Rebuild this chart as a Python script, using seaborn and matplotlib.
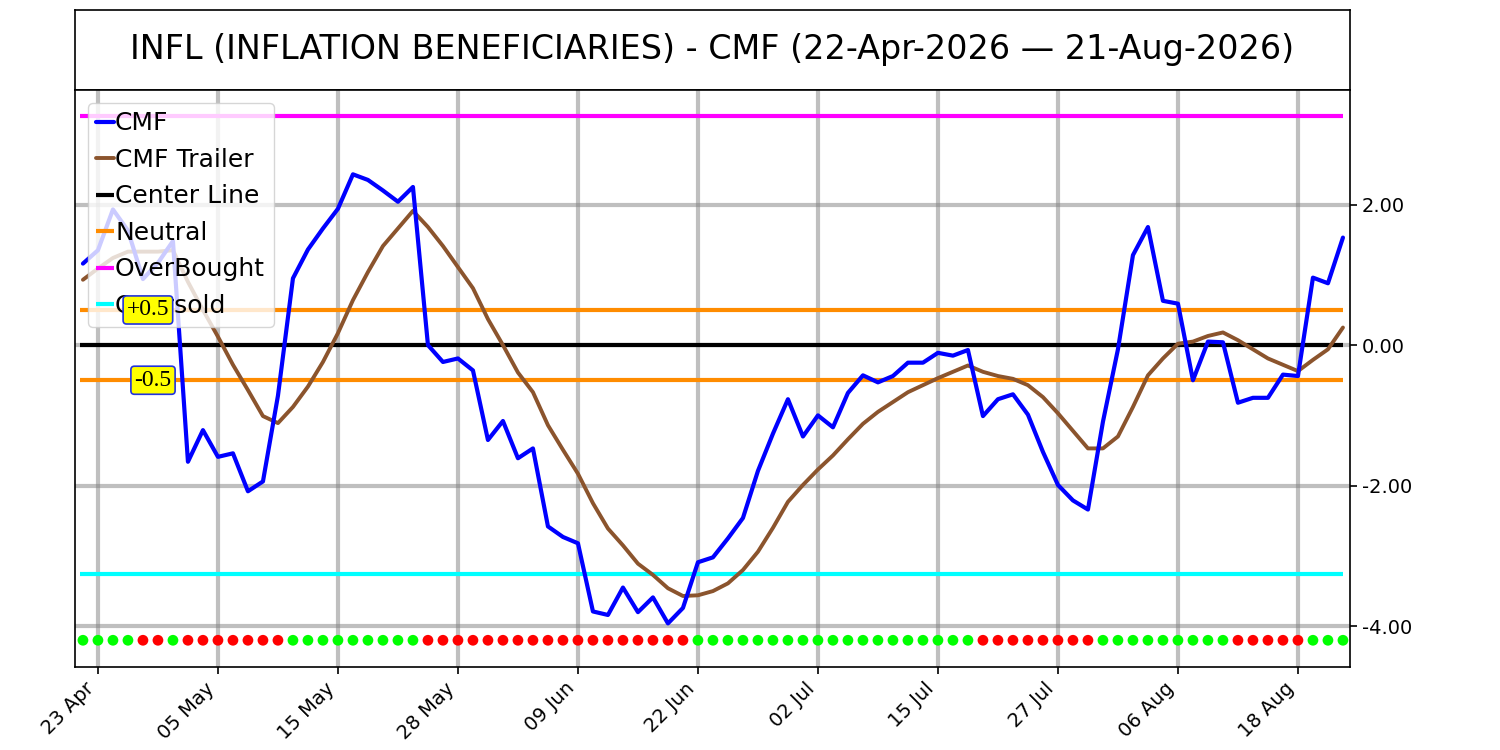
import matplotlib
matplotlib.use("Agg")
import matplotlib.pyplot as plt
import numpy as np
import pandas as pd
import seaborn as sns

sns.set_style("ticks")
plt.rcParams["font.family"] = ["DejaVu Sans"]
plt.rcParams["text.color"] = "black"
plt.rcParams["xtick.color"] = "black"
plt.rcParams["ytick.color"] = "black"

TITLE = "INFL (INFLATION BENEFICIARIES) - CMF (22-Apr-2026 \u2014 21-Aug-2026)"

HOLIDAYS = ["2026-05-25", "2026-06-19", "2026-07-03"]
DATES = pd.bdate_range("2026-04-22", "2026-08-21", freq="C", holidays=HOLIDAYS)

CMF = [
    1.16, 1.35, 1.93, 1.63, 0.94, 1.17, 1.48, -1.66, -1.21, -1.59,
    -1.54, -2.08, -1.94, -0.72, 0.95, 1.36, 1.66, 1.94, 2.43, 2.35,
    2.20, 2.04, 2.25, 0.00, -0.24, -0.19, -0.36, -1.35, -1.08, -1.61,
    -1.47, -2.58, -2.73, -2.82, -3.79, -3.84, -3.45, -3.80, -3.59, -3.96,
    -3.74, -3.09, -3.02, -2.75, -2.46, -1.79, -1.26, -0.77, -1.30, -1.00,
    -1.17, -0.68, -0.43, -0.53, -0.44, -0.25, -0.25, -0.11, -0.15, -0.07,
    -1.01, -0.77, -0.70, -0.99, -1.52, -1.99, -2.21, -2.34, -1.09, -0.06,
    1.28, 1.68, 0.63, 0.59, -0.50, 0.05, 0.04, -0.82, -0.75, -0.75,
    -0.42, -0.44, 0.96, 0.88, 1.53,
]
TRAILER = [
    0.93, 1.09, 1.24, 1.33, 1.33, 1.33, 1.35, 0.90, 0.50, 0.12,
    -0.28, -0.64, -1.01, -1.11, -0.88, -0.59, -0.24, 0.17, 0.64, 1.04,
    1.41, 1.66, 1.91, 1.68, 1.41, 1.11, 0.81, 0.37, 0.00, -0.39,
    -0.67, -1.14, -1.49, -1.83, -2.25, -2.61, -2.85, -3.11, -3.27, -3.46,
    -3.57, -3.56, -3.50, -3.39, -3.20, -2.94, -2.60, -2.23, -1.99, -1.77,
    -1.57, -1.34, -1.12, -0.95, -0.81, -0.67, -0.57, -0.47, -0.38, -0.29,
    -0.38, -0.44, -0.48, -0.57, -0.74, -0.97, -1.22, -1.47, -1.47, -1.30,
    -0.88, -0.43, -0.19, 0.02, 0.05, 0.13, 0.18, 0.07, -0.06, -0.19,
    -0.28, -0.37, -0.21, -0.06, 0.25,
]
# G = bullish dot, R = bearish dot
SIGNAL = "GGGGRRGRRRRRRRGGGGGGGGGRRRRRRRRRRRRRRRRRRGGGGGGGGGGGGGGGGGGGRRRRRRRRGGGGGGGGGRRRRRGGG"

CENTER = 0.0
NEUTRAL = 0.5
OVERBOUGHT = 3.26
OVERSOLD = -3.25
DOT_LEVEL = -4.2

YTICKS = [-4.0, -2.0, 0.0, 2.0]
TICK_STEP = 8

df = pd.DataFrame({
    "idx": np.arange(len(CMF)),
    "date": DATES,
    "cmf": CMF,
    "trailer": TRAILER,
    "signal": list(SIGNAL),
})
df["dot"] = DOT_LEVEL

fig = plt.figure(figsize=(15, 7.5), dpi=100)
ax_title = fig.add_axes([0.05, 0.88, 0.85, 0.1067])
ax = fig.add_axes([0.05, 0.1107, 0.85, 0.7693])

ax_title.set_xticks([])
ax_title.set_yticks([])
for sp in ax_title.spines.values():
    sp.set_color("black")
    sp.set_linewidth(1.2)
ax_title.text(0.5, 0.5, TITLE, ha="center", va="center", fontsize=24,
              transform=ax_title.transAxes)

grid_kw = dict(color="gray", alpha=0.5, linewidth=3, zorder=0)
tick_pos = df["idx"].iloc[1::TICK_STEP].tolist()
for xp in tick_pos:
    ax.axvline(xp, **grid_kw)
for yp in YTICKS:
    ax.axhline(yp, **grid_kw)

sns.lineplot(data=df, x="idx", y="cmf", ax=ax, color="#0000ff", linewidth=3,
             label="CMF", zorder=5)
sns.lineplot(data=df, x="idx", y="trailer", ax=ax, color="#8b542d", linewidth=2.8,
             label="CMF Trailer", zorder=4)

x0, x1 = df["idx"].min() - 0.2, df["idx"].max()
ax.hlines(CENTER, x0, x1, color="black", linewidth=3, label="Center Line", zorder=3)
ax.hlines(NEUTRAL, x0, x1, color="#ff8c00", linewidth=3, label="Neutral", zorder=3)
ax.hlines(-NEUTRAL, x0, x1, color="#ff8c00", linewidth=3, zorder=3)
ax.hlines(OVERBOUGHT, x0, x1, color="#ff00ff", linewidth=3, label="OverBought", zorder=3)
ax.hlines(OVERSOLD, x0, x1, color="#00ffff", linewidth=3, label="Oversold", zorder=3)

sns.scatterplot(data=df, x="idx", y="dot", hue="signal",
                palette={"G": "#00ff00", "R": "#ff0000"}, s=60, linewidth=0,
                ax=ax, legend=False, zorder=6)

ax.set_xlim(-0.53, 84.47)
ax.set_ylim(-4.58, 3.63)
ax.set_xticks(tick_pos)
ax.set_xticklabels([d.strftime("%d %b") for d in df["date"].iloc[1::TICK_STEP]],
                   rotation=45, ha="right", rotation_mode="default", fontsize=14)
ax.yaxis.tick_right()
ax.set_yticks(YTICKS)
ax.set_yticklabels([f"{v:.2f}" for v in YTICKS], fontsize=14)
ax.set_xlabel("")
ax.set_ylabel("")
for sp in ax.spines.values():
    sp.set_visible(True)
    sp.set_color("black")
    sp.set_linewidth(1.2)
ax.tick_params(axis="both", length=5, width=1.2, color="black")

leg = ax.legend(loc="upper left", fontsize=18, handlelength=0.7, handletextpad=0.05,
                borderaxespad=0.5, labelspacing=0.5, borderpad=0.35)
leg.set_zorder(7)

box = dict(boxstyle="round,pad=0.15", facecolor="yellow", edgecolor="#2233dd", linewidth=1.2)
ax.text(4.33, NEUTRAL, "+0.5", ha="center", va="center", fontsize=17,
        family="Liberation Serif", bbox=box, zorder=8)
ax.text(4.67, -NEUTRAL, "-0.5", ha="center", va="center", fontsize=17,
        family="Liberation Serif", bbox=box, zorder=8)

fig.savefig("out.png", dpi=100)
